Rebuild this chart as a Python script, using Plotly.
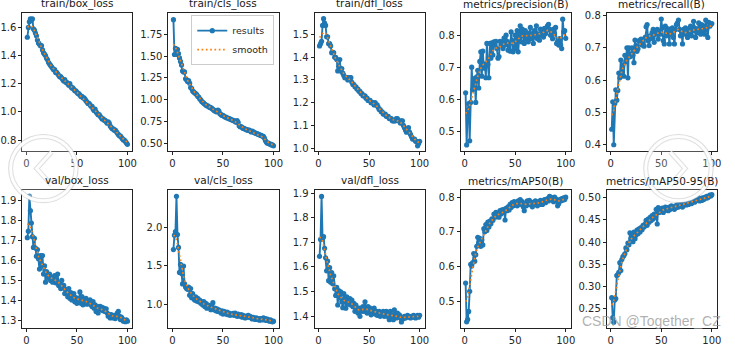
import numpy as np
import plotly.graph_objects as go

W, H = 735, 346

epochs = list(range(1, 101))

titles = ["train/box_loss", "train/cls_loss", "train/dfl_loss", "metrics/precision(B)", "metrics/recall(B)",
          "val/box_loss", "val/cls_loss", "val/dfl_loss", "metrics/mAP50(B)", "metrics/mAP50-95(B)"]

train_box_loss = [1.53, 1.60, 1.64, 1.66, 1.65, 1.66, 1.59, 1.58, 1.56, 1.54,
                  1.51, 1.49, 1.48, 1.47, 1.47, 1.44, 1.42, 1.41, 1.40, 1.38,
                  1.37, 1.35, 1.34, 1.33, 1.32, 1.31, 1.30, 1.30, 1.28, 1.28,
                  1.27, 1.26, 1.25, 1.25, 1.24, 1.23, 1.22, 1.23, 1.21, 1.21,
                  1.20, 1.19, 1.20, 1.18, 1.17, 1.17, 1.16, 1.15, 1.15, 1.14,
                  1.13, 1.13, 1.12, 1.11, 1.11, 1.10, 1.10, 1.09, 1.08, 1.07,
                  1.06, 1.06, 1.05, 1.04, 1.04, 1.02, 1.01, 1.02, 1.00, 0.99,
                  0.98, 0.98, 0.97, 0.96, 0.95, 0.95, 0.94, 0.94, 0.93, 0.92,
                  0.93, 0.92, 0.90, 0.89, 0.88, 0.88, 0.87, 0.87, 0.86, 0.85,
                  0.84, 0.83, 0.83, 0.82, 0.81, 0.80, 0.80, 0.79, 0.78, 0.77]

train_cls_loss = [1.92, 1.52, 1.59, 1.52, 1.58, 1.53, 1.48, 1.44, 1.40, 1.33,
                  1.32, 1.32, 1.24, 1.23, 1.21, 1.22, 1.19, 1.14, 1.13, 1.10,
                  1.09, 1.08, 1.07, 1.06, 1.04, 1.03, 1.01, 1.00, 0.98, 0.97,
                  0.96, 0.95, 0.94, 0.93, 0.93, 0.92, 0.91, 0.91, 0.90, 0.89,
                  0.88, 0.87, 0.87, 0.86, 0.88, 0.87, 0.84, 0.83, 0.82, 0.82,
                  0.81, 0.80, 0.80, 0.79, 0.79, 0.78, 0.78, 0.77, 0.77, 0.76,
                  0.76, 0.75, 0.74, 0.76, 0.74, 0.70, 0.69, 0.69, 0.68, 0.67,
                  0.67, 0.66, 0.66, 0.65, 0.65, 0.65, 0.64, 0.63, 0.64, 0.63,
                  0.62, 0.62, 0.61, 0.61, 0.60, 0.60, 0.59, 0.59, 0.58, 0.58,
                  0.56, 0.53, 0.51, 0.50, 0.50, 0.49, 0.49, 0.48, 0.48, 0.47]

train_dfl_loss = [1.45, 1.46, 1.47, 1.54, 1.57, 1.55, 1.54, 1.49, 1.49, 1.46,
                  1.46, 1.45, 1.42, 1.42, 1.42, 1.40, 1.40, 1.39, 1.34, 1.36,
                  1.39, 1.34, 1.35, 1.33, 1.32, 1.31, 1.31, 1.31, 1.30, 1.31,
                  1.31, 1.31, 1.29, 1.28, 1.28, 1.27, 1.27, 1.26, 1.26, 1.25,
                  1.25, 1.24, 1.24, 1.23, 1.23, 1.23, 1.22, 1.22, 1.21, 1.21,
                  1.21, 1.20, 1.20, 1.20, 1.19, 1.20, 1.19, 1.19, 1.18, 1.17,
                  1.17, 1.16, 1.16, 1.15, 1.15, 1.15, 1.14, 1.14, 1.14, 1.13,
                  1.13, 1.13, 1.12, 1.12, 1.12, 1.12, 1.13, 1.13, 1.12, 1.12,
                  1.11, 1.12, 1.12, 1.10, 1.09, 1.08, 1.07, 1.08, 1.09, 1.07,
                  1.06, 1.05, 1.04, 1.04, 1.04, 1.03, 1.03, 1.01, 1.02, 1.03]

precision = [0.620, 0.457, 0.566, 0.586, 0.470, 0.590, 0.700, 0.630, 0.652, 0.665,
             0.590, 0.670, 0.690, 0.635, 0.718, 0.748, 0.672, 0.750, 0.697, 0.710,
             0.667, 0.774, 0.708, 0.667, 0.774, 0.728, 0.776, 0.738, 0.779, 0.769,
             0.781, 0.758, 0.728, 0.733, 0.781, 0.769, 0.779, 0.758, 0.791, 0.769,
             0.800, 0.781, 0.753, 0.774, 0.750, 0.810, 0.784, 0.748, 0.758, 0.800,
             0.758, 0.814, 0.748, 0.800, 0.829, 0.779, 0.819, 0.800, 0.774, 0.814,
             0.789, 0.807, 0.779, 0.800, 0.824, 0.789, 0.804, 0.774, 0.814, 0.794,
             0.829, 0.789, 0.804, 0.784, 0.819, 0.800, 0.814, 0.794, 0.821, 0.804,
             0.814, 0.829, 0.834, 0.819, 0.800, 0.810, 0.789, 0.819, 0.804, 0.824,
             0.774, 0.779, 0.769, 0.789, 0.769, 0.758, 0.850, 0.810, 0.814, 0.790]

recall = [0.448, 0.533, 0.400, 0.528, 0.570, 0.538, 0.568, 0.622, 0.607, 0.662,
          0.622, 0.647, 0.612, 0.677, 0.657, 0.700, 0.607, 0.700, 0.672, 0.677,
          0.700, 0.677, 0.654, 0.724, 0.707, 0.689, 0.697, 0.722, 0.712, 0.727,
          0.709, 0.715, 0.705, 0.732, 0.765, 0.772, 0.722, 0.707, 0.737, 0.729,
          0.747, 0.757, 0.717, 0.749, 0.742, 0.757, 0.727, 0.752, 0.742, 0.789,
          0.762, 0.722, 0.712, 0.767, 0.737, 0.752, 0.759, 0.712, 0.752, 0.742,
          0.762, 0.732, 0.712, 0.757, 0.772, 0.777, 0.786, 0.757, 0.737, 0.752,
          0.712, 0.757, 0.742, 0.762, 0.749, 0.732, 0.757, 0.742, 0.767, 0.737,
          0.752, 0.782, 0.762, 0.732, 0.757, 0.747, 0.777, 0.762, 0.742, 0.772,
          0.752, 0.767, 0.742, 0.786, 0.757, 0.732, 0.779, 0.767, 0.772, 0.775]

val_box_loss = [1.715, 1.748, 1.924, 1.851, 1.789, 1.720, 1.666, 1.712, 1.663, 1.622,
                1.655, 1.609, 1.557, 1.625, 1.573, 1.625, 1.532, 1.573, 1.491, 1.544,
                1.524, 1.511, 1.532, 1.500, 1.516, 1.491, 1.508, 1.524, 1.488, 1.500,
                1.532, 1.475, 1.483, 1.459, 1.500, 1.462, 1.475, 1.434, 1.455, 1.442,
                1.418, 1.459, 1.410, 1.439, 1.402, 1.418, 1.434, 1.393, 1.413, 1.385,
                1.410, 1.393, 1.442, 1.385, 1.418, 1.377, 1.402, 1.393, 1.410, 1.380,
                1.393, 1.385, 1.402, 1.377, 1.369, 1.393, 1.360, 1.377, 1.344, 1.369,
                1.336, 1.360, 1.369, 1.352, 1.364, 1.347, 1.360, 1.344, 1.357, 1.336,
                1.320, 1.328, 1.311, 1.328, 1.320, 1.311, 1.324, 1.308, 1.320, 1.336,
                1.344, 1.320, 1.303, 1.315, 1.308, 1.295, 1.298, 1.292, 1.302, 1.295]

val_cls_loss = [1.710, 1.896, 1.940, 2.394, 1.904, 1.738, 1.417, 1.520, 1.404, 1.270,
                1.500, 1.270, 1.229, 1.210, 1.200, 1.229, 1.125, 1.210, 1.092, 1.146,
                1.083, 1.063, 1.104, 1.050, 1.083, 1.042, 1.063, 1.021, 1.042, 1.000,
                1.042, 0.979, 1.021, 0.958, 1.000, 0.967, 0.992, 0.938, 0.958, 1.029,
                0.938, 0.958, 0.925, 0.950, 0.917, 0.938, 0.917, 0.896, 0.925, 0.883,
                0.917, 0.896, 0.883, 0.908, 0.875, 0.896, 0.867, 0.883, 0.875, 0.892,
                0.867, 0.896, 0.875, 0.854, 0.883, 0.867, 0.854, 0.875, 0.842, 0.867,
                0.846, 0.833, 0.858, 0.842, 0.867, 0.842, 0.854, 0.833, 0.821, 0.842,
                0.825, 0.813, 0.833, 0.813, 0.825, 0.804, 0.825, 0.808, 0.821, 0.833,
                0.808, 0.825, 0.800, 0.817, 0.800, 0.792, 0.808, 0.792, 0.783, 0.792]

val_dfl_loss = [1.643, 1.712, 1.887, 1.716, 1.723, 1.676, 1.637, 1.584, 1.624, 1.544,
                1.597, 1.538, 1.577, 1.531, 1.564, 1.511, 1.484, 1.517, 1.445, 1.504,
                1.474, 1.498, 1.458, 1.434, 1.491, 1.458, 1.432, 1.478, 1.448, 1.465,
                1.471, 1.445, 1.465, 1.438, 1.452, 1.419, 1.445, 1.425, 1.412, 1.432,
                1.399, 1.432, 1.419, 1.438, 1.419, 1.458, 1.425, 1.412, 1.438, 1.419,
                1.432, 1.405, 1.425, 1.412, 1.432, 1.408, 1.419, 1.403, 1.412, 1.419,
                1.399, 1.412, 1.403, 1.419, 1.399, 1.412, 1.419, 1.399, 1.412, 1.385,
                1.419, 1.392, 1.405, 1.385, 1.425, 1.399, 1.392, 1.412, 1.399, 1.405,
                1.392, 1.376, 1.395, 1.389, 1.399, 1.392, 1.399, 1.403, 1.395, 1.399,
                1.392, 1.399, 1.395, 1.403, 1.397, 1.392, 1.399, 1.403, 1.395, 1.403]

map50 = [0.552, 0.440, 0.447, 0.470, 0.528, 0.606, 0.601, 0.611, 0.637, 0.615,
         0.634, 0.658, 0.684, 0.667, 0.681, 0.658, 0.676, 0.662, 0.709, 0.700,
         0.721, 0.704, 0.728, 0.714, 0.731, 0.723, 0.737, 0.733, 0.751, 0.742,
         0.756, 0.744, 0.753, 0.742, 0.761, 0.751, 0.763, 0.756, 0.765, 0.734,
         0.768, 0.761, 0.772, 0.763, 0.779, 0.770, 0.784, 0.775, 0.787, 0.778,
         0.784, 0.775, 0.789, 0.779, 0.793, 0.781, 0.787, 0.772, 0.761, 0.781,
         0.775, 0.789, 0.779, 0.791, 0.778, 0.786, 0.772, 0.784, 0.779, 0.789,
         0.781, 0.775, 0.787, 0.779, 0.791, 0.784, 0.779, 0.789, 0.793, 0.784,
         0.791, 0.796, 0.789, 0.802, 0.800, 0.793, 0.798, 0.787, 0.800, 0.796,
         0.789, 0.775, 0.781, 0.793, 0.789, 0.796, 0.791, 0.798, 0.793, 0.800]

map50_95 = [0.275, 0.230, 0.220, 0.270, 0.273, 0.325, 0.327, 0.332, 0.354, 0.336,
            0.361, 0.367, 0.370, 0.374, 0.387, 0.383, 0.398, 0.394, 0.421, 0.408,
            0.419, 0.401, 0.423, 0.408, 0.416, 0.427, 0.419, 0.430, 0.423, 0.433,
            0.428, 0.438, 0.434, 0.441, 0.449, 0.438, 0.452, 0.445, 0.456, 0.449,
            0.460, 0.452, 0.463, 0.456, 0.474, 0.441, 0.478, 0.467, 0.474, 0.471,
            0.477, 0.467, 0.474, 0.479, 0.472, 0.478, 0.471, 0.479, 0.474, 0.482,
            0.477, 0.479, 0.474, 0.482, 0.478, 0.484, 0.479, 0.485, 0.481, 0.484,
            0.479, 0.487, 0.484, 0.488, 0.484, 0.489, 0.485, 0.490, 0.493, 0.487,
            0.491, 0.494, 0.490, 0.493, 0.496, 0.501, 0.495, 0.493, 0.499, 0.494,
            0.500, 0.496, 0.501, 0.499, 0.503, 0.500, 0.503, 0.506, 0.504, 0.507]

series = [train_box_loss, train_cls_loss, train_dfl_loss, precision, recall,
          val_box_loss, val_cls_loss, val_dfl_loss, map50, map50_95]

y_ranges = [[0.722, 1.704], [0.41, 2.0], [0.987, 1.596], [0.438, 0.870], [0.3805, 0.8085],
            [1.259, 1.955], [0.70, 2.475], [1.35, 1.913], [0.4213, 0.8206], [0.2061, 0.5175]]

y_tickvals = [[0.8, 1.0, 1.2, 1.4, 1.6],
              [0.5, 0.75, 1.0, 1.25, 1.5, 1.75],
              [1.0, 1.1, 1.2, 1.3, 1.4, 1.5],
              [0.5, 0.6, 0.7, 0.8],
              [0.4, 0.5, 0.6, 0.7, 0.8],
              [1.3, 1.4, 1.5, 1.6, 1.7, 1.8, 1.9],
              [1.0, 1.5, 2.0],
              [1.4, 1.5, 1.6, 1.7, 1.8, 1.9],
              [0.5, 0.6, 0.7, 0.8],
              [0.25, 0.30, 0.35, 0.40, 0.45, 0.50]]

y_ticktext = [["0.8", "1.0", "1.2", "1.4", "1.6"],
              ["0.50", "0.75", "1.00", "1.25", "1.50", "1.75"],
              ["1.0", "1.1", "1.2", "1.3", "1.4", "1.5"],
              ["0.5", "0.6", "0.7", "0.8"],
              ["0.4", "0.5", "0.6", "0.7", "0.8"],
              ["1.3", "1.4", "1.5", "1.6", "1.7", "1.8", "1.9"],
              ["1.0", "1.5", "2.0"],
              ["1.4", "1.5", "1.6", "1.7", "1.8", "1.9"],
              ["0.5", "0.6", "0.7", "0.8"],
              ["0.25", "0.30", "0.35", "0.40", "0.45", "0.50"]]

x_tickvals = [0, 50, 100]
x_ticktext = ["0", "50", "100"]


def gauss_smooth(y, sigma=3.0):
    y = np.asarray(y, dtype=float)
    r = int(4 * sigma + 0.5)
    k = np.exp(-0.5 * (np.arange(-r, r + 1) / sigma) ** 2)
    k /= k.sum()
    p = np.pad(y, r, mode="symmetric")
    return np.convolve(p, k, mode="valid")


FONT = "DejaVu Sans"
BLUE = "#1f77b4"
ORANGE = "#ff7f0e"

fig = go.Figure()
layout = dict(
    width=W, height=H, margin=dict(l=0, r=0, t=0, b=0),
    paper_bgcolor="white", plot_bgcolor="white",
    font=dict(family=FONT, size=10, color="#262626"),
    showlegend=True,
    legend=dict(x=274.5 / W, xanchor="right", y=1 - 12.5 / H, yanchor="top",
                bgcolor="rgba(255,255,255,0.85)", bordercolor="#cccccc", borderwidth=1,
                font=dict(family=FONT, size=9.5, color="#262626"), itemwidth=30,
                tracegroupgap=0),
)
annotations = []

for i in range(10):
    row, col = divmod(i, 5)
    left = 20.5 + 147.3 * col
    right = left + 111
    if row == 0:
        top, bot = 10, 152
    else:
        top, bot = 192, 334
    xd = [left / W, right / W]
    yd = [1 - bot / H, 1 - top / H]
    n = i + 1
    xa = "x" if n == 1 else f"x{n}"
    ya = "y" if n == 1 else f"y{n}"
    axis_common = dict(showgrid=False, zeroline=False, showline=True, mirror=True,
                       linecolor="#222222", linewidth=0.9, ticks="outside", ticklen=3,
                       tickwidth=0.9, tickcolor="#222222",
                       tickfont=dict(family=FONT, size=10, color="#262626"))
    layout[f"xaxis{'' if n == 1 else n}"] = dict(domain=xd, anchor=ya, range=[-3.95, 104.95],
                                                 tickvals=x_tickvals, ticktext=x_ticktext, **axis_common)
    layout[f"yaxis{'' if n == 1 else n}"] = dict(domain=yd, anchor=xa, range=y_ranges[i],
                                                 tickvals=y_tickvals[i], ticktext=y_ticktext[i], **axis_common)
    y = series[i]
    fig.add_trace(go.Scatter(x=epochs, y=y, mode="lines+markers", name="results",
                             line=dict(color=BLUE, width=1.9), marker=dict(color=BLUE, size=5.2),
                             xaxis=xa, yaxis=ya, showlegend=(i == 1)))
    fig.add_trace(go.Scatter(x=epochs, y=gauss_smooth(y), mode="lines", name="smooth",
                             line=dict(color=ORANGE, width=1.7, dash="1.7px,2.6px"),
                             xaxis=xa, yaxis=ya, showlegend=(i == 1)))
    annotations.append(dict(text=titles[i], xref="paper", yref="paper",
                            x=(left + right) / 2 / W, y=1 - top / H, xanchor="center",
                            yanchor="bottom", yshift=1, showarrow=False,
                            font=dict(family=FONT, size=10.5, color="#1a1a1a")))

# watermark text
annotations.append(dict(text="CSDN @Together_CZ", xref="paper", yref="paper",
                        x=727 / W, y=1 - 326 / H, xanchor="right", yanchor="middle",
                        showarrow=False,
                        font=dict(family="Liberation Sans", size=14, color="rgba(150,150,150,0.75)")))

# carousel overlay circles
shapes = []


def px(xp):
    return xp / W


def py(yp):
    return 1 - yp / H


for cx, cy, r, d in [(41.7, 170, 33, -1), (682, 170, 33, 1)]:
    for lw, col in [(5, "rgba(190,190,190,0.55)"), (3, "rgba(255,255,255,0.95)")]:
        shapes.append(dict(type="circle", xref="paper", yref="paper",
                           x0=px(cx - r), x1=px(cx + r), y0=py(cy + r), y1=py(cy - r),
                           line=dict(color=col, width=lw), fillcolor="rgba(255,255,255,0.12)"))
        p = (f"M {px(cx - d * 8.3)} {py(cy - 17)} L {px(cx + d * 6.7)} {py(cy)} "
             f"L {px(cx - d * 8.3)} {py(cy + 17)}")
        shapes.append(dict(type="path", xref="paper", yref="paper", path=p,
                           line=dict(color=col, width=lw)))

layout["annotations"] = annotations
layout["shapes"] = shapes
fig.update_layout(**layout)
fig.write_html("out.html")
